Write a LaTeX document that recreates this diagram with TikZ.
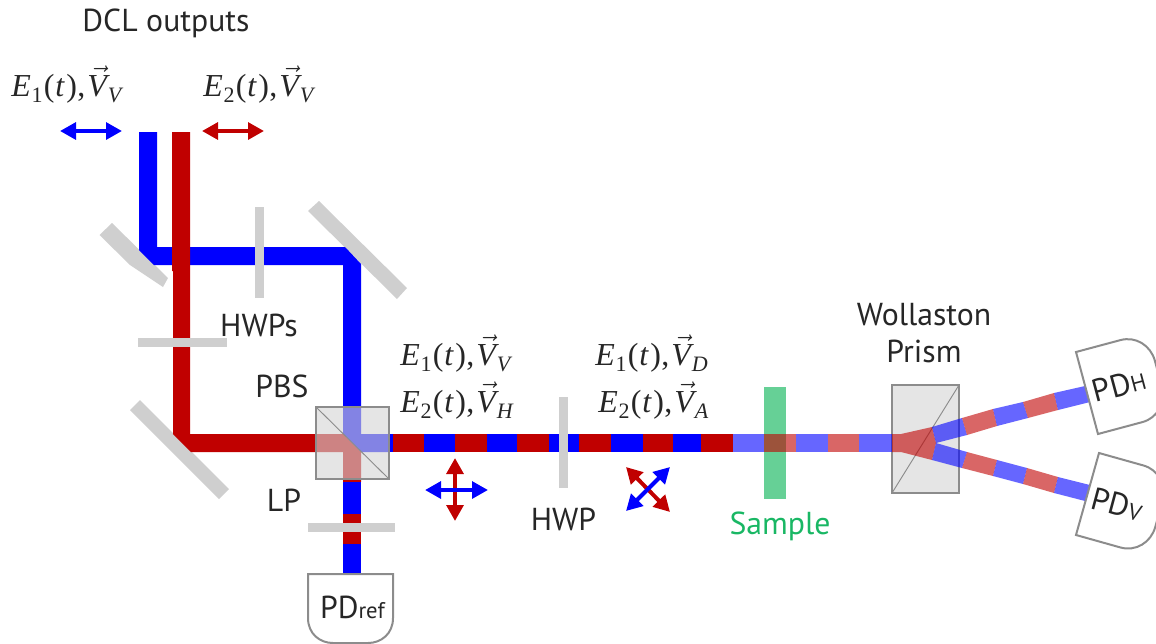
\documentclass[tikz,border=0pt]{standalone}
\usepackage{fontspec}
\setmainfont{PT Sans}
\newfontfamily\camfont{Liberation Serif}
\usetikzlibrary{arrows.meta}
\definecolor{dblue}{RGB}{0,0,255}
\definecolor{dred}{RGB}{192,0,0}
\definecolor{plate}{RGB}{207,207,207}
\definecolor{edgegray}{RGB}{140,140,140}
\definecolor{boxgray}{RGB}{213,213,213}
\definecolor{dgreen}{RGB}{0,176,80}
\definecolor{samplegreen}{RGB}{25,183,100}
\definecolor{txt}{RGB}{38,38,38}
\tikzset{
 x=0.75pt,y=-0.75pt,
 mirror/.style={fill=plate,draw=none},
 bb/.style={fill=dblue,draw=none},
 rb/.style={fill=dred,draw=none},
 fb/.style={fill=dblue,fill opacity=.6,draw=none},
 fr/.style={fill=dred,fill opacity=.6,draw=none},
 cube/.style={fill=boxgray,fill opacity=.62,draw=none},
 cubeline/.style={draw=edgegray,line width=1.1pt},
 thinline/.style={draw=edgegray,line width=.7pt},
 detector/.style={draw=edgegray,line width=1.5pt},
 lbl/.style={inner sep=0,anchor=base,text=txt,font=\fontsize{23.8}{28}\selectfont},
 mathlbl/.style={inner sep=0,anchor=base west,text=txt,font=\fontsize{24}{28}\selectfont\camfont},
 polblue/.style={draw=dblue,fill=dblue,line width=3pt,{Triangle[length=12pt,width=12.5pt]}-{Triangle[length=12pt,width=12.5pt]}},
 polred/.style={draw=dred,fill=dred,line width=3pt,{Triangle[length=12pt,width=12.5pt]}-{Triangle[length=12pt,width=12.5pt]}},
}
\newcommand{\hseg}[3]{\fill[#1] (#2,434) rectangle (#3,452);}
\newcommand{\pdshape}{(0,0)--(85,0)--(85,46) .. controls (85,62) and (72,74) .. (56,74) -- (29,74) .. controls (13,74) and (0,62) .. (0,46) -- cycle}
\newcommand{\smallsub}[1]{\raisebox{-4.5pt}{\fontsize{16.5}{16.5}\selectfont #1}}
\newcommand{\fieldlabel}[2]{\textit{E}\kern.6pt\smallsub{#1}\kern1pt(\kern.6pt\textit{t}\kern1pt)\kern.4pt,\kern1.4pt$\vec{\hbox{\textit{V}}}$\kern-1.5pt\smallsub{\textit{#2}}}
\begin{document}
\begin{tikzpicture}
\useasboundingbox (0,0) rectangle (1156,643);
% mirrors
\fill[mirror] (99.5,235)--(112,223)--(168,278)--(163,287)--(130,265)--cycle;
\fill[mirror] (308,211)--(319,201)--(407,288)--(397,299)--cycle;
\fill[mirror] (130,410)--(140,400)--(229,489)--(219,499)--cycle;
% blue path
\fill[bb] (139,132)--(157,132)--(157,247)--(345,247)--(361,264)--(361,434)--(389,434)--(389,452)--(361,452)--(343,434)--(343,265)--(154,265)--(139,250)--cycle;
% red path
\fill[rb] (172,132)--(190,132)--(190,434)--(343,434)--(361,452)--(361,482)--(343,482)--(343,452)--(191,452)--(173,434)--(173,271)--(172,271)--cycle;
% PBS output to reference
\fill[bb] (343,482) rectangle (361,514);
\fill[rb] (343,514) rectangle (361,544);
\fill[bb] (343,544) rectangle (361,575);
% solid horizontal train
\foreach \s/\a/\b in {bb/389/393,rb/393/424,bb/424/455,rb/455/487,bb/487/517,rb/517/549,bb/549/579,rb/579/611,bb/611/643,rb/643/673,bb/673/701,rb/701/733}{\hseg{\s}{\a}{\b}}
% plates
\fill[mirror] (255,207) rectangle (264,298);
\fill[mirror] (138,338) rectangle (227,347);
\fill[mirror] (308,523) rectangle (395,532);
\fill[mirror] (559,397) rectangle (568,488);
% sample
\fill[dgreen,fill opacity=.6] (764,387) rectangle (786,499);
% PBS cube
\fill[cube] (316,407) rectangle (389,479);
\draw[cubeline] (316,407) rectangle (389,479);
\draw[thinline] (316,407) -- (389,479);
% Wollaston
\fill[cube] (892,385) rectangle (959,493);
\draw[cubeline,line width=.9pt] (892,385) rectangle (959,493);
\draw[thinline] (892,493) -- (959,385);
% faded train
\foreach \s/\a/\b in {fb/733/764,fr/764/796,fb/796/828,fr/828/859,fb/859/892}{\hseg{\s}{\a}{\b}}
% wedge
\fill[fr] (892,434)--(901,434)--(932,427)--(936,443)--(932,460)--(901,452)--(892,452)--cycle;
% upper branch
\fill[fb] (932,427)--(962,418)--(967,435)--(936,443)--cycle;
\fill[fr] (962,418)--(993,409)--(997,426)--(967,435)--cycle;
\fill[fb] (993,409)--(1023,402)--(1028,418)--(997,426)--cycle;
\fill[fr] (1023,402)--(1054,393)--(1058,410)--(1028,418)--cycle;
\fill[fb] (1054,393)--(1085,386)--(1090,402)--(1058,410)--cycle;
% lower branch
\fill[fb] (936,443)--(967,452)--(962,468)--(932,460)--cycle;
\fill[fr] (967,452)--(997,460)--(993,476)--(962,468)--cycle;
\fill[fb] (997,460)--(1027,468)--(1023,484)--(993,476)--cycle;
\fill[fr] (1027,468)--(1058,477)--(1054,493)--(1023,484)--cycle;
\fill[fb] (1058,477)--(1090,485)--(1085,501)--(1054,493)--cycle;
% detectors
\draw[detector] (308,574)--(393,574)--(393,618) .. controls (393,634) and (381,643) .. (368,643) -- (333,643) .. controls (320,643) and (308,634) .. (308,618) -- cycle;
\begin{scope}[shift={(1076,352)},x={(0.194pt,-0.7235pt)},y={(0.7235pt,0.194pt)}]
\draw[detector] \pdshape;
\end{scope}
\begin{scope}[shift={(1099,453)},x={(-0.203pt,-0.7235pt)},y={(0.7235pt,-0.203pt)}]
\draw[detector] \pdshape;
\end{scope}
% polarisation arrows
\coordinate (b1a) at (60,131); \coordinate (b1b) at (122,131);
\coordinate (r1a) at (202,131); \coordinate (r1b) at (264,131);
\coordinate (r2a) at (455,458); \coordinate (r2b) at (455,521);
\coordinate (b2a) at (425,490); \coordinate (b2b) at (488,490);
\coordinate (r3a) at (626,467); \coordinate (r3b) at (670,512);
\coordinate (b3a) at (626,511); \coordinate (b3b) at (670,467);
\draw[polblue] (b1a) -- (b1b);
\draw[polred] (r1a) -- (r1b);
\draw[polred] (r2a) -- (r2b);
\draw[polblue] (b2a) -- (b2b);
\draw[polred] (r3a) -- (r3b);
\draw[polblue] (b3a) -- (b3b);
% labels
\node[lbl] (dcl) at (166,31) {DCL outputs};
\node[lbl] (hwps) at (259,336) {HWPs};
\node[lbl] (pbs) at (282,397) {PBS};
\node[lbl] (lp) at (284,511) {LP};
\node[lbl] (hwp) at (563.5,530) {HWP};
\node[lbl,text=samplegreen] (sample) at (780,534) {Sample};
\node[lbl] (woll) at (924,325) {Wollaston};
\node[lbl] (prism) at (924,362) {Prism};
\node[lbl] (pdref) at (352.5,618) {PD{\fontsize{17}{17}\selectfont ref}};
\node[lbl,anchor=center,rotate=15] (pdh) at (1119,385) {PD{\fontsize{17}{17}\selectfont H}};
\node[lbl,anchor=center,rotate=-15] (pdv) at (1117,504) {PD{\fontsize{17}{17}\selectfont V}};
\node[mathlbl] (m1) at (11,96) {\fieldlabel{1}{V}};
\node[mathlbl] (m2) at (203,96) {\fieldlabel{2}{V}};
\node[mathlbl] (m3) at (400,365) {\fieldlabel{1}{V}};
\node[mathlbl] (m4) at (400,412) {\fieldlabel{2}{H}};
\node[mathlbl] (m5) at (595,365) {\fieldlabel{1}{D}};
\node[mathlbl] (m6) at (598,412) {\fieldlabel{2}{A}};
\end{tikzpicture}
\end{document}
